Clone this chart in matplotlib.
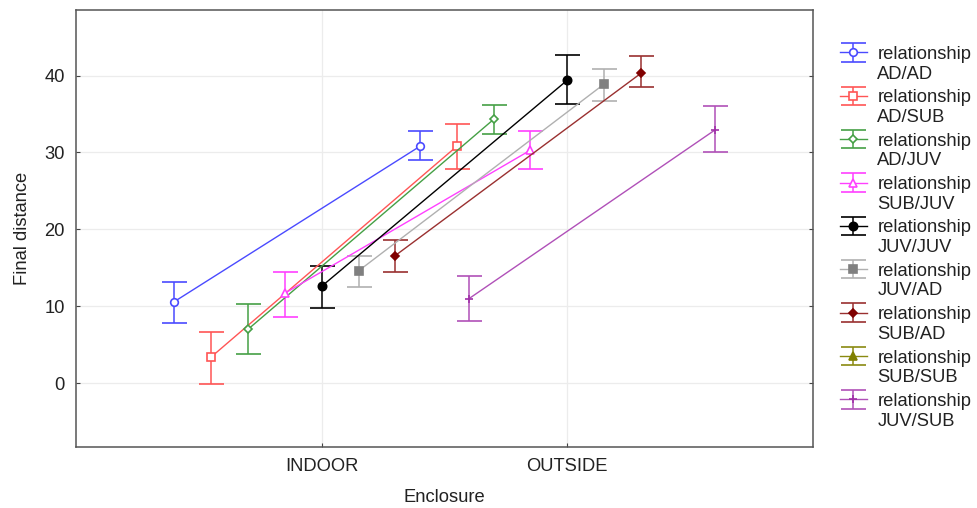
import numpy as np
import matplotlib
matplotlib.use("Agg")
import matplotlib.pyplot as plt

plt.rcParams['font.family'] = ['Liberation Sans', 'DejaVu Sans']

enclosures = ['INDOOR', 'OUTSIDE']
relationships = ['AD/AD', 'AD/SUB', 'AD/JUV', 'SUB/JUV', 'JUV/JUV',
                 'JUV/AD', 'SUB/AD', 'SUB/SUB', 'JUV/SUB']

# mean, lower and upper limit for INDOOR / OUTSIDE
means = [
    [10.6, 30.8],
    [3.4, 30.8],
    [7.0, 34.3],
    [11.7, 30.3],
    [12.6, 39.4],
    [14.6, 38.9],
    [16.6, 40.3],
    [np.nan, np.nan],
    [11.0, 32.9],
]
lower = [
    [7.8, 29.0],
    [-0.1, 27.9],
    [3.8, 32.4],
    [8.6, 27.9],
    [9.8, 36.3],
    [12.5, 36.7],
    [14.5, 38.5],
    [np.nan, np.nan],
    [8.1, 30.1],
]
upper = [
    [13.2, 32.8],
    [6.7, 33.7],
    [10.3, 36.2],
    [14.5, 32.8],
    [15.3, 42.7],
    [16.5, 40.9],
    [18.6, 42.5],
    [np.nan, np.nan],
    [14.0, 36.1],
]

colors = ['#4a4aff', '#ff5555', '#45a045', '#ff40ff', '#000000',
          '#b0b0b0', '#9a3030', '#8a8a10', '#b050b8']
marker_colors = ['#4a4aff', '#ff5555', '#45a045', '#ff40ff', '#000000',
                 '#808080', '#800000', '#808000', '#a030a8']
markers = ['o', 's', 'D', '^', 'o', 's', 'D', '^', '+']
filled = [False, False, False, False, True, True, True, True, True]
sizes = [5.5, 6, 4.5, 5.5, 6, 5.5, 4.5, 5.5, 6]

fig = plt.figure(figsize=(9.77, 5.08), dpi=100)
ax = fig.add_axes([0.0778, 0.120, 0.7543, 0.860])

n = len(relationships)
offsets = np.linspace(-0.6, 0.6, n)
base = np.arange(1, len(enclosures) + 1)

for i, rel in enumerate(relationships):
    m = np.array(means[i])
    lo = np.array(lower[i])
    hi = np.array(upper[i])
    x = base + offsets[i]
    ax.errorbar(x, m, yerr=[m - lo, hi - m], color=colors[i],
                ecolor=colors[i], elinewidth=1.1, capsize=9, capthick=1.1,
                marker=markers[i], markersize=sizes[i],
                markerfacecolor=marker_colors[i] if filled[i] else 'white',
                markeredgecolor=marker_colors[i], markeredgewidth=1.2,
                linewidth=1.0, label='relationship\n' + rel)

ax.set_xlim(0, 3)
ax.set_ylim(-8.3, 48.5)
ax.set_xticks(base)
ax.set_xticklabels(enclosures)
ax.set_yticks([0, 10, 20, 30, 40])
ax.grid(True, color='#ececec', linewidth=0.9)
ax.set_axisbelow(True)
ax.tick_params(direction='in', length=3, color='#444444', labelsize=13.2,
               labelcolor='#222222', right=True, top=False, pad=8)
for s in ax.spines.values():
    s.set_color('#555555')
    s.set_linewidth(1.1)

ax.set_xlabel('Enclosure', fontsize=13.2, color='#222222', labelpad=10)
ax.set_ylabel('Final distance', fontsize=13.2, color='#222222', labelpad=10)

leg = ax.legend(loc='upper left', bbox_to_anchor=(0.852, 0.924),
                bbox_transform=fig.transFigure, frameon=False,
                fontsize=13.2, handlelength=1.5, handletextpad=0.55,
                labelspacing=0.37, borderaxespad=0)
# put each handle next to the first line of its label
for col in leg._legend_handle_box.get_children():
    for row in col.get_children():
        row.align = 'top'
for t in leg.get_texts():
    t.set_color('#222222')

fig.savefig('out.png', dpi=100)
